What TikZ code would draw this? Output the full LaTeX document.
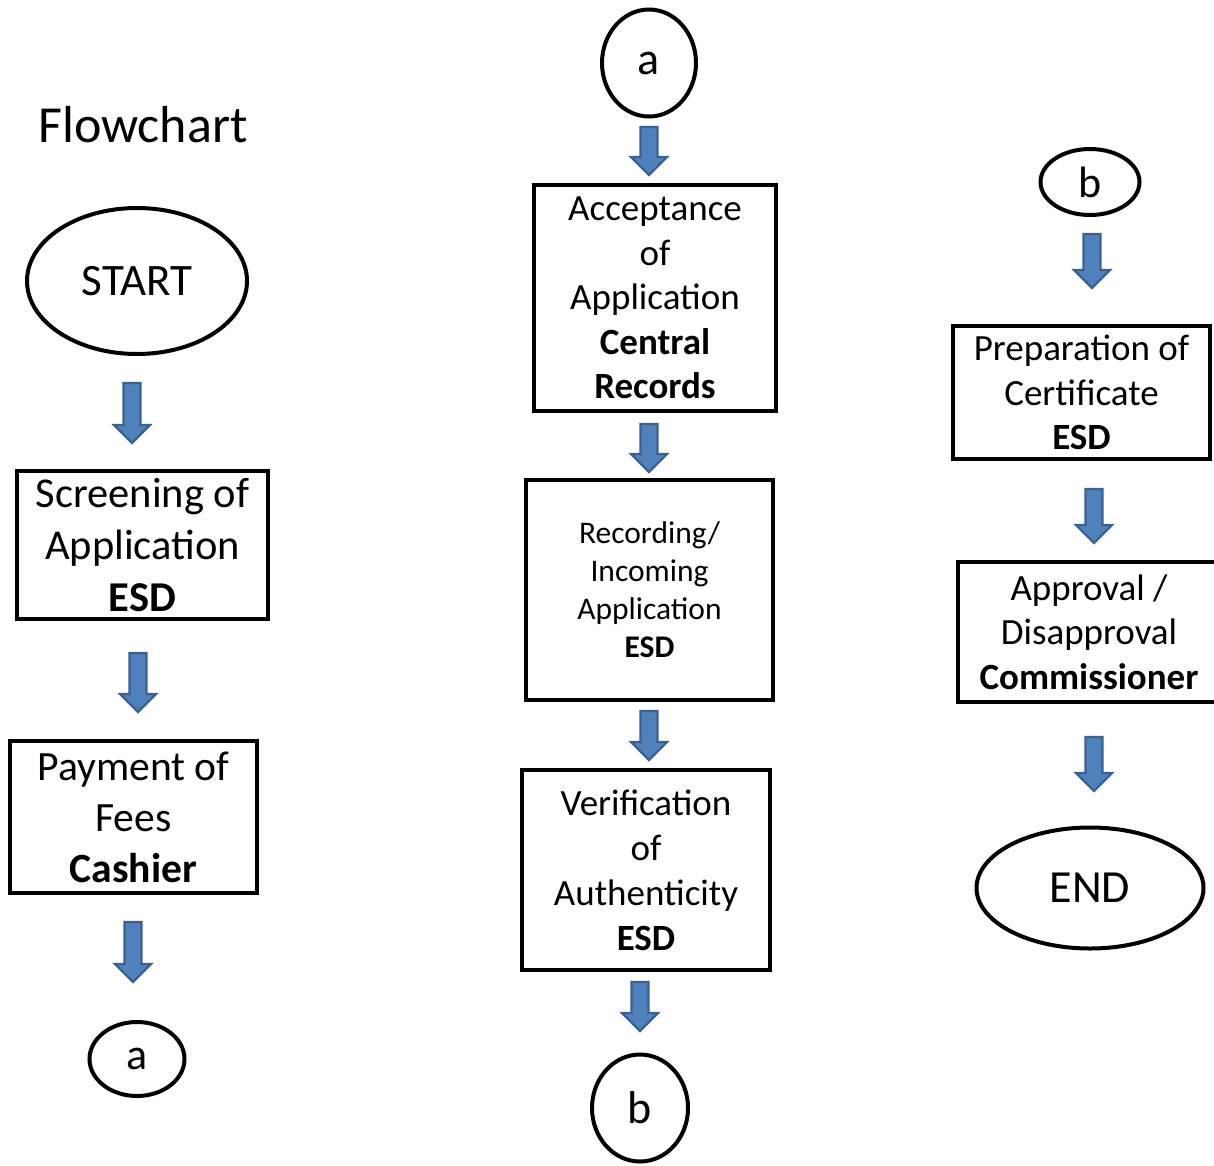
\documentclass[tikz,border=0pt]{standalone}
\usepackage{fontspec}
\setmainfont{Carlito}
\usetikzlibrary{calc,shapes.geometric}
\definecolor{arrowfill}{HTML}{4F81BD}
\definecolor{arrowline}{HTML}{3A6191}
\tikzset{
  box/.style={draw=black, line width=4pt, align=center, inner sep=0pt},
  oval/.style={draw=black, line width=4pt, ellipse, inner sep=0pt},
  barrowstyle/.style={fill=arrowfill, draw=arrowline, line width=2.2pt, line join=miter},
}
\newcommand\fs[2]{\fontsize{#1}{#2}\selectfont}
\newcommand\barrow[2]{\path[barrowstyle] let \p1=(#1), \p2=(#2) in
  (\x1-8.5pt,\y1) -- (\x1+8.5pt,\y1) -- (\x1+8.5pt,\y2+18pt) -- (\x1+18pt,\y2+18pt)
  -- (\x1,\y2) -- (\x1-18pt,\y2+18pt) -- (\x1-8.5pt,\y2+18pt) -- cycle;}
\begin{document}
\begin{tikzpicture}[x=1pt,y=-1pt]
\useasboundingbox (0,0) rectangle (1214,1165);
% left column
\node[font=\fs{52}{62}] (title) at (143,125) {Flowchart};
\node[oval, minimum width=220pt, minimum height=146pt, font=\fs{45}{54}] (start) at (137,281) {START};
\node[box, minimum width=251pt, minimum height=148pt, font=\fs{42.5}{52}] (screen) at (142.5,545)
  {Screening of\\Application\\\textbf{ESD}};
\node[box, minimum width=247pt, minimum height=152pt, font=\fs{41.6}{51}] (pay) at (133.5,817)
  {Payment of\\Fees\\\textbf{Cashier}};
\node[oval, minimum width=95pt, minimum height=74pt, font=\fs{44}{52}] (aL) at (137,1059) {a};
% middle column
\node[oval, minimum width=94pt, minimum height=107pt, font=\fs{46}{54}] (aT) at (649,63) {a};
\node[box, minimum width=242pt, minimum height=226pt, font=\fs{37}{44.5}] (accept) at (655,298)
  {Acceptance\\of\\Application\\\textbf{Central}\\\textbf{Records}};
\node[box, minimum width=247pt, minimum height=220pt, font=\fs{31.5}{38}] (record) at (649.5,590)
  {Recording/\\Incoming\\Application\\\textbf{ESD}};
\node[box, minimum width=248pt, minimum height=200pt, font=\fs{37}{45}] (verify) at (646,870)
  {Verification\\of\\Authenticity\\\textbf{ESD}};
\node[oval, minimum width=96pt, minimum height=107pt, font=\fs{46}{54}] (bB) at (640,1108) {b};
% right column
\node[oval, minimum width=99pt, minimum height=66pt, font=\fs{44}{52}] (bR) at (1090,182) {b};
\node[box, minimum width=257pt, minimum height=133pt, font=\fs{37}{44.5}] (prep) at (1081.5,392.5)
  {Preparation of\\Certificate\\\textbf{ESD}};
\node[box, minimum width=262pt, minimum height=140pt, font=\fs{37}{44.5}] (approve) at (1089,632)
  {Approval /\\Disapproval\\\textbf{Commissioner}};
\node[oval, minimum width=227pt, minimum height=121pt, font=\fs{46}{54}] (end) at (1090,888) {END};
% arrow end points
\coordinate (l1t) at (132,383);  \coordinate (l1b) at (132,443);
\coordinate (l2t) at (138,653);  \coordinate (l2b) at (138,712);
\coordinate (l3t) at (133,922);  \coordinate (l3b) at (133,982);
\coordinate (m1t) at (649,127);  \coordinate (m1b) at (649,175);
\coordinate (m2t) at (649,424);  \coordinate (m2b) at (649,472);
\coordinate (m3t) at (649,711);  \coordinate (m3b) at (649,760);
\coordinate (m4t) at (640,982);  \coordinate (m4b) at (640,1031);
\coordinate (r1t) at (1092,234); \coordinate (r1b) at (1092,288);
\coordinate (r2t) at (1094,489); \coordinate (r2b) at (1094,543);
\coordinate (r3t) at (1094,737); \coordinate (r3b) at (1094,791);
\barrow{l1t}{l1b}
\barrow{l2t}{l2b}
\barrow{l3t}{l3b}
\barrow{m1t}{m1b}
\barrow{m2t}{m2b}
\barrow{m3t}{m3b}
\barrow{m4t}{m4b}
\barrow{r1t}{r1b}
\barrow{r2t}{r2b}
\barrow{r3t}{r3b}
\end{tikzpicture}
\end{document}
